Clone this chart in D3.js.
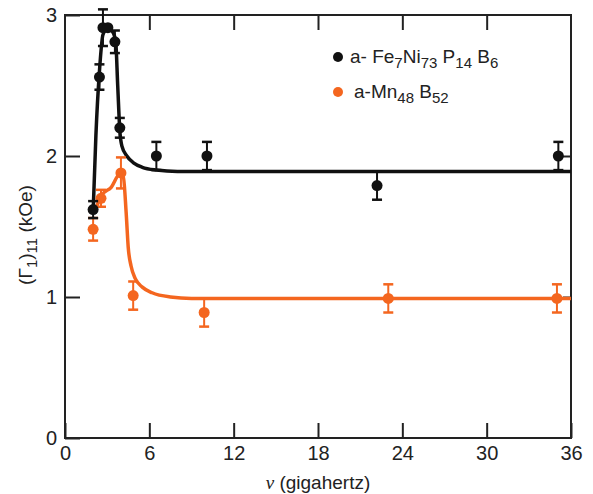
<!DOCTYPE html>
<html>
<head>
<meta charset="utf-8">
<script src="https://cdn.jsdelivr.net/npm/d3@7"></script>
<style>
  body { margin: 0; background: #fff; }
  text { font-family: "Liberation Sans", Arial, sans-serif; fill: #222; }
</style>
</head>
<body>
<div id="chart"></div>
<script>
// measured points, black series (a-Fe7Ni73P14B6)
var feFreq  = [2.0, 2.45, 2.7, 3.05, 3.55, 3.9, 6.5, 10.1, 22.2, 35.1];
var feVal   = [1.62, 2.56, 2.91, 2.91, 2.81, 2.2, 2.0, 2.0, 1.79, 2.0];
var feErr   = [0.06, 0.09, 0.13, 0.0, 0.08, 0.07, 0.1, 0.1, 0.1, 0.1];

// measured points, orange series (a-Mn48B52)
var mnFreq  = [2.0, 2.56, 3.98, 4.85, 9.9, 23.0, 35.0];
var mnVal   = [1.48, 1.70, 1.88, 1.01, 0.89, 0.99, 0.99];
var mnErr   = [0.08, 0.06, 0.11, 0.1, 0.1, 0.1, 0.1];

// fitted curves
var feCurveX = [2.0, 2.2, 2.45, 2.7, 3.0, 3.3, 3.6, 3.75, 3.9, 4.05, 4.4, 4.9, 5.5, 6.5, 8, 12, 20, 36];
var feCurveY = [1.6, 2.15, 2.6, 2.86, 2.9, 2.89, 2.82, 2.5, 2.18, 2.07, 2.0, 1.95, 1.92, 1.9, 1.89, 1.89, 1.89, 1.89];
var mnCurveX = [2.1, 2.6, 3.3, 3.9, 4.15, 4.35, 4.5, 4.7, 5.0, 5.5, 6.2, 7.5, 9, 12, 20, 36];
var mnCurveY = [1.6, 1.72, 1.78, 1.87, 1.85, 1.6, 1.35, 1.22, 1.13, 1.07, 1.03, 1.0, 0.99, 0.99, 0.99, 0.99];

var xTicks = [0, 6, 12, 18, 24, 30, 36];
var yTicks = [0, 1, 2, 3];

var W = 593, H = 494;
var orange = "#f4661f", black = "#111";

var svg = d3.select("#chart").append("svg")
  .attr("width", W).attr("height", H);

var x = d3.scaleLinear().domain([0, 36]).range([65, 571]);
var y = d3.scaleLinear().domain([0, 3]).range([438, 15]);

// frame
svg.append("rect")
  .attr("x", x(0)).attr("y", y(3))
  .attr("width", x(36) - x(0)).attr("height", y(0) - y(3))
  .attr("fill", "none").attr("stroke", "#222").attr("stroke-width", 2);

// axes with inward ticks
var tl = 15;
svg.append("g").attr("transform", "translate(0," + y(0) + ")")
  .call(d3.axisBottom(x).tickValues(xTicks).tickSize(-tl).tickPadding(8).tickFormat(d3.format("d")))
  .call(function(g) {
    g.select(".domain").remove();
    g.selectAll("line").attr("stroke", "#222").attr("stroke-width", 2);
    g.selectAll("text").attr("font-size", 20).attr("fill", "#222").attr("font-family", "Liberation Sans, Arial, sans-serif");
  });
svg.append("g").attr("transform", "translate(0," + y(3) + ")")
  .call(d3.axisTop(x).tickValues(xTicks.slice(1, 6)).tickSize(-tl).tickFormat(""))
  .call(function(g) {
    g.select(".domain").remove();
    g.selectAll("line").attr("stroke", "#222").attr("stroke-width", 2);
  });
svg.append("g").attr("transform", "translate(" + x(0) + ",0)")
  .call(d3.axisLeft(y).tickValues(yTicks).tickSize(-tl).tickPadding(8).tickFormat(d3.format("d")))
  .call(function(g) {
    g.select(".domain").remove();
    g.selectAll("line").attr("stroke", "#222").attr("stroke-width", 2);
    g.selectAll("text").attr("font-size", 20).attr("fill", "#222").attr("font-family", "Liberation Sans, Arial, sans-serif");
  });
svg.append("g").attr("transform", "translate(" + x(36) + ",0)")
  .call(d3.axisRight(y).tickValues([1, 2]).tickSize(-8).tickFormat(""))
  .call(function(g) {
    g.select(".domain").remove();
    g.selectAll("line").attr("stroke", "#222").attr("stroke-width", 2);
  });

// curves
var line = d3.line().x(function(d) { return x(d[0]); }).y(function(d) { return y(d[1]); }).curve(d3.curveMonotoneX);
svg.append("path").datum(d3.zip(mnCurveX, mnCurveY))
  .attr("d", line).attr("fill", "none").attr("stroke", orange).attr("stroke-width", 3.5);
svg.append("path").datum(d3.zip(feCurveX, feCurveY))
  .attr("d", line).attr("fill", "none").attr("stroke", black).attr("stroke-width", 3.5);

// points with error bars
function drawPoints(xs, vs, es, color) {
  var data = d3.zip(xs, vs, es);
  var g = svg.append("g");
  var pts = g.selectAll("g").data(data).enter().append("g");
  pts.filter(function(d) { return d[2] > 0; }).append("line")
    .attr("x1", function(d) { return x(d[0]); }).attr("x2", function(d) { return x(d[0]); })
    .attr("y1", function(d) { return y(d[1] + d[2]); }).attr("y2", function(d) { return y(d[1] - d[2]); })
    .attr("stroke", color).attr("stroke-width", 2);
  [1, -1].forEach(function(s) {
    pts.filter(function(d) { return d[2] > 0; }).append("line")
      .attr("x1", function(d) { return x(d[0]) - 5; }).attr("x2", function(d) { return x(d[0]) + 5; })
      .attr("y1", function(d) { return y(d[1] + s * d[2]); }).attr("y2", function(d) { return y(d[1] + s * d[2]); })
      .attr("stroke", color).attr("stroke-width", 2.5);
  });
  pts.append("circle")
    .attr("cx", function(d) { return x(d[0]); }).attr("cy", function(d) { return y(d[1]); })
    .attr("r", 5.5).attr("fill", color);
}
drawPoints(mnFreq, mnVal, mnErr, orange);
drawPoints(feFreq, feVal, feErr, black);

// legend
function sub(t, parts) {
  parts.forEach(function(p) {
    var ts = t.append("tspan").text(p[0]);
    if (p[1]) ts.attr("font-size", 15).attr("dy", 5);
    else if (p[2]) ts.attr("dy", -5);
  });
}
svg.append("circle").attr("cx", 338).attr("cy", 57).attr("r", 5).attr("fill", black);
var t1 = svg.append("text").attr("x", 350).attr("y", 63).attr("font-size", 19);
sub(t1, [["a- Fe"], ["7", 1], ["Ni", 0, 1], ["73", 1], [" P", 0, 1], ["14", 1], [" B", 0, 1], ["6", 1]]);
svg.append("circle").attr("cx", 338).attr("cy", 92).attr("r", 5).attr("fill", orange);
var t2 = svg.append("text").attr("x", 354).attr("y", 98).attr("font-size", 19);
sub(t2, [["a-Mn"], ["48", 1], [" B", 0, 1], ["52", 1]]);

// axis titles
var yl = svg.append("text").attr("transform", "translate(32,235) rotate(-90)")
  .attr("text-anchor", "middle").attr("font-size", 19);
sub(yl, [["(\u0393"], ["1", 1], [")", 0, 1], ["11", 1], [" (kOe)", 0, 1]]);
var xl = svg.append("text").attr("x", 318).attr("y", 489).attr("text-anchor", "middle").attr("font-size", 19);
xl.append("tspan").attr("font-style", "italic").attr("font-family", "Liberation Serif, serif").text("\u03bd");
xl.append("tspan").text(" (gigahertz)");
</script>
</body>
</html>
